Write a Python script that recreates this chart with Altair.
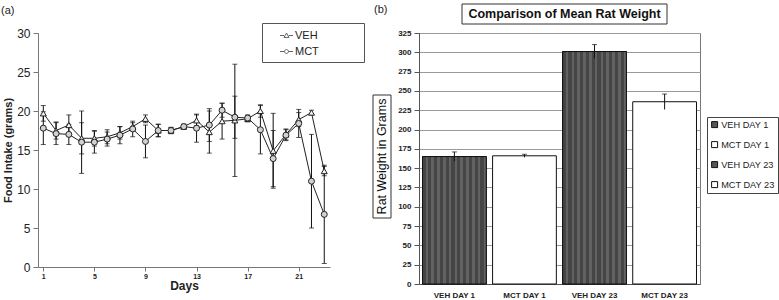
import altair as alt
import pandas as pd

# ---------------- (a) daily food intake ----------------
days = [1, 2, 3, 4, 5, 6, 7, 8, 9, 10, 11, 12, 13, 14, 15, 16, 17, 18, 19, 20, 21, 22, 23]
veh_intake = [19.7, 17.5, 18.2, 16.5, 16.5, 16.7, 17.2, 18.0, 19.0, 17.5, 17.5, 18.0,
              18.8, 17.3, 18.7, 18.8, 19.0, 20.0, 14.9, 17.0, 18.9, 19.8, 12.3]
veh_sem = [1.0, 1.1, 1.3, 2.0, 1.0, 0.9, 0.8, 0.5, 0.5, 0.8, 0.4, 0.3,
           0.7, 2.7, 2.3, 7.2, 0.4, 0.8, 4.8, 0.7, 0.9, 0.3, 0.6]
mct_intake = [17.8, 17.1, 17.0, 16.0, 16.0, 16.4, 16.9, 17.7, 16.1, 17.5, 17.5, 18.0,
              17.8, 18.2, 20.1, 19.2, 19.1, 17.6, 13.9, 16.9, 18.4, 11.0, 6.75]
mct_sem = [2.1, 1.4, 1.3, 4.0, 1.4, 0.9, 1.1, 1.0, 2.1, 0.8, 0.4, 0.3,
           1.8, 2.1, 0.9, 2.7, 0.4, 3.1, 3.6, 0.7, 1.8, 6.0, 6.3]
groups_a = ["VEH", "MCT"]
day_ticks = [1, 5, 9, 13, 17, 21]
intake_ticks = [0, 5, 10, 15, 20, 25, 30]

# ---------------- (b) mean rat weight ----------------
weight_groups = ["VEH DAY 1", "MCT DAY 1", "VEH DAY 23", "MCT DAY 23"]
weight_mean = [165, 166, 301, 236]
weight_err = [6, 2, 9, 10]
weight_ticks = [0, 25, 50, 75, 100, 125, 150, 175, 200, 225, 250, 275, 300, 325]

title_b = "Comparison of Mean Rat Weight"
ytitle_b = "Rat Weight in Grams"

FONT = "Liberation Sans"
INK = "#222222"

intake = pd.DataFrame({
    "day": days * 2,
    "group": ["VEH"] * len(days) + ["MCT"] * len(days),
    "intake": veh_intake + mct_intake,
    "sem": veh_sem + mct_sem,
})
intake["lo"] = intake["intake"] - intake["sem"]
intake["hi"] = intake["intake"] + intake["sem"]

day_scale = alt.Scale(domain=[0.585, 23.45], nice=False, zero=False)
intake_scale = alt.Scale(domain=[0, 30], nice=False)
day_axis = alt.Axis(values=day_ticks, title="Days", grid=False, labelOverlap=False,
                    labelFont=FONT, labelFontWeight="bold", labelFontSize=7,
                    labelColor=INK, labelPadding=1,
                    titleFont=FONT, titleFontWeight="bold", titleFontSize=12,
                    titleColor=INK, titlePadding=1,
                    domainColor="#777", tickColor="#777", tickSize=4)
intake_axis = alt.Axis(values=intake_ticks, title="Food Intake (grams)", grid=False,
                       labelOverlap=False,
                       labelFont=FONT, labelFontSize=12, labelColor=INK, labelPadding=3,
                       titleFont=FONT, titleFontWeight="bold", titleFontSize=11,
                       titleColor=INK, titlePadding=3,
                       domainColor="#777", tickColor="#777", tickSize=5)


def x_day():
    return alt.X("day:Q", scale=day_scale, axis=day_axis)


def y_int(field):
    return alt.Y(f"{field}:Q", scale=intake_scale, axis=intake_axis)


base_a = alt.Chart(intake)
lines_a = base_a.mark_line(color=INK, strokeWidth=1).encode(
    x=x_day(), y=y_int("intake"), detail="group:N")
bars_a = base_a.mark_rule(color="#111", strokeWidth=1).encode(
    x=x_day(), y=y_int("lo"), y2="hi:Q")
cap_lo = base_a.mark_tick(orient="horizontal", size=5, thickness=1, color="#111").encode(
    x=x_day(), y=y_int("lo"))
cap_hi = base_a.mark_tick(orient="horizontal", size=5, thickness=1, color="#111").encode(
    x=x_day(), y=y_int("hi"))
points_a = base_a.mark_point(filled=True, size=36, stroke=INK, strokeWidth=1, opacity=1).encode(
    x=x_day(), y=y_int("intake"),
    shape=alt.Shape("group:N", scale=alt.Scale(domain=groups_a, range=["triangle-up", "circle"]), legend=None),
    color=alt.Color("group:N", scale=alt.Scale(domain=groups_a, range=["#f6f6f6", "#d2d2d2"]), legend=None),
)

# legend glyphs: marker with a short line on each side
tri_glyph = "M-1,0H-0.38M0.38,0H1M0,-0.38L0.38,0.3L-0.38,0.3Z"
circ_glyph = "M-1,0H-0.3M0.3,0H1M0.3,0A0.3,0.3 0 1,1 -0.3,0A0.3,0.3 0 1,1 0.3,0Z"
# blank (non-whitespace) glyphs leave room on the right of the legend labels
pad = "\u2800" * 5
legend_a = alt.Chart(intake).transform_filter("false").mark_point(
    filled=False, stroke=INK, strokeWidth=1
).encode(
    shape=alt.Shape(
        "group:N",
        scale=alt.Scale(domain=groups_a, range=[tri_glyph, circ_glyph]),
        legend=alt.Legend(
            title=None, orient="none", legendX=224, legendY=-10,
            fillColor="white", strokeColor="#555", padding=5,
            symbolOffset=12, symbolSize=170, symbolStrokeWidth=1,
            symbolStrokeColor=INK, symbolFillColor="white",
            labelFont=FONT, labelFontSize=11, labelColor=INK, labelOffset=1,
            rowPadding=3, labelExpr=f"datum.label + '{pad}'",
        ),
    )
)
tag_a = alt.Chart(pd.DataFrame({"t": ["(a)"]})).mark_text(
    font=FONT, fontSize=11, color=INK, align="left", baseline="middle"
).encode(text="t:N", x=alt.value(-37), y=alt.value(-22))

left = alt.layer(lines_a, bars_a, cap_lo, cap_hi, points_a, legend_a, tag_a).resolve_scale(
    shape="independent"
).properties(width=292, height=234, view=alt.ViewBackground(stroke="transparent"))

# ---------------- (b) ----------------
weights = pd.DataFrame({"group": weight_groups, "mean": weight_mean, "err": weight_err})
weights["lo"] = weights["mean"] - weights["err"]
weights["hi"] = weights["mean"] + weights["err"]

grp_scale = alt.Scale(domain=weight_groups, paddingInner=0.09, paddingOuter=0.05)
w_scale = alt.Scale(domain=[0, 325], nice=False)
grp_axis = alt.Axis(title=None, labelAngle=0, ticks=False, grid=False,
                    labelFont=FONT, labelFontWeight="bold", labelFontSize=8,
                    labelColor=INK, labelPadding=7, domainColor="#555")
w_axis = alt.Axis(values=weight_ticks, title=None, grid=True, gridColor="#9a9a9a",
                  labelOverlap=False,
                  labelFont=FONT, labelFontWeight="bold", labelFontSize=8,
                  labelColor=INK, labelPadding=3, tickSize=5,
                  tickColor="#555", domainColor="#555")


def x_grp():
    return alt.X("group:N", sort=weight_groups, scale=grp_scale, axis=grp_axis)


def y_w(field):
    return alt.Y(f"{field}:Q", scale=w_scale, axis=w_axis)


dark, light = "#454545", "#626262"
stops = []
n_stripes = 11
for i in range(n_stripes):
    a0, a1, a2 = i / n_stripes, (i + 0.55) / n_stripes, (i + 1) / n_stripes
    stops += [alt.GradientStop(offset=a0, color=dark), alt.GradientStop(offset=a1, color=dark),
              alt.GradientStop(offset=a1, color=light), alt.GradientStop(offset=a2, color=light)]
stripes = alt.LinearGradient(gradient="linear", stops=stops, x1=0, x2=1, y1=0, y2=0)

base_b = alt.Chart(weights)
bars_b = base_b.mark_bar(stroke="#111", strokeWidth=1).encode(
    x=x_grp(), y=y_w("mean"),
    fill=alt.Fill(
        "group:N",
        scale=alt.Scale(domain=weight_groups, range=["#555555", "#ffffff", "#555555", "#ffffff"]),
        legend=alt.Legend(
            title=None, orient="none", legendX=669, legendY=84,
            fillColor="white", strokeColor="#444", padding=3,
            symbolType="square", symbolSize=36, symbolStrokeColor="#111",
            symbolStrokeWidth=1,
            labelFont=FONT, labelFontSize=9.2, labelColor=INK, labelOffset=2,
            rowPadding=9,
        ),
    ),
)
veh_bars = base_b.transform_filter("indexof(datum.group, 'VEH') == 0").mark_bar(
    fill=stripes, stroke="#111", strokeWidth=1
).encode(x=x_grp(), y=y_w("mean"))
err_b = base_b.mark_rule(color="#111", strokeWidth=1).encode(
    x=x_grp(), y=y_w("lo"), y2="hi:Q")
cap_b = base_b.mark_tick(orient="horizontal", size=5, thickness=1, color="#111").encode(
    x=x_grp(), y=y_w("hi"))

title_box = alt.Chart(pd.DataFrame({"t": [title_b]})).mark_rect(
    fill="white", stroke="#333", strokeWidth=1
).encode(x=alt.value(43), x2=alt.value(248), y=alt.value(-29), y2=alt.value(-9))
title_txt = alt.Chart(pd.DataFrame({"t": [title_b]})).mark_text(
    font=FONT, fontWeight="bold", fontSize=12.5, color="#111", baseline="middle"
).encode(text="t:N", x=alt.value(145.5), y=alt.value(-19))
ytitle_box = alt.Chart(pd.DataFrame({"t": [ytitle_b]})).mark_rect(
    fill="white", stroke="#333", strokeWidth=1
).encode(x=alt.value(-46), x2=alt.value(-28), y=alt.value(62), y2=alt.value(185))
ytitle_txt = alt.Chart(pd.DataFrame({"t": [ytitle_b]})).mark_text(
    font=FONT, fontSize=12.5, color="#111", baseline="middle", angle=270
).encode(text="t:N", x=alt.value(-37), y=alt.value(123.5))
tag_b = alt.Chart(pd.DataFrame({"t": ["(b)"]})).mark_text(
    font=FONT, fontSize=11, color=INK, align="left", baseline="middle"
).encode(text="t:N", x=alt.value(-45), y=alt.value(-23))

right = alt.layer(bars_b, veh_bars, err_b, cap_b, title_box, title_txt,
                  ytitle_box, ytitle_txt, tag_b).properties(
    width=281, height=251, view=alt.ViewBackground(stroke="#777"))

chart = alt.hconcat(left, right, spacing=89, bounds="flush").properties(
    padding={"left": 0, "top": 3, "right": 0, "bottom": 0},
    background="white",
).configure(font=FONT)

chart.save("out.html", embed_options={"renderer": "svg", "actions": False})
